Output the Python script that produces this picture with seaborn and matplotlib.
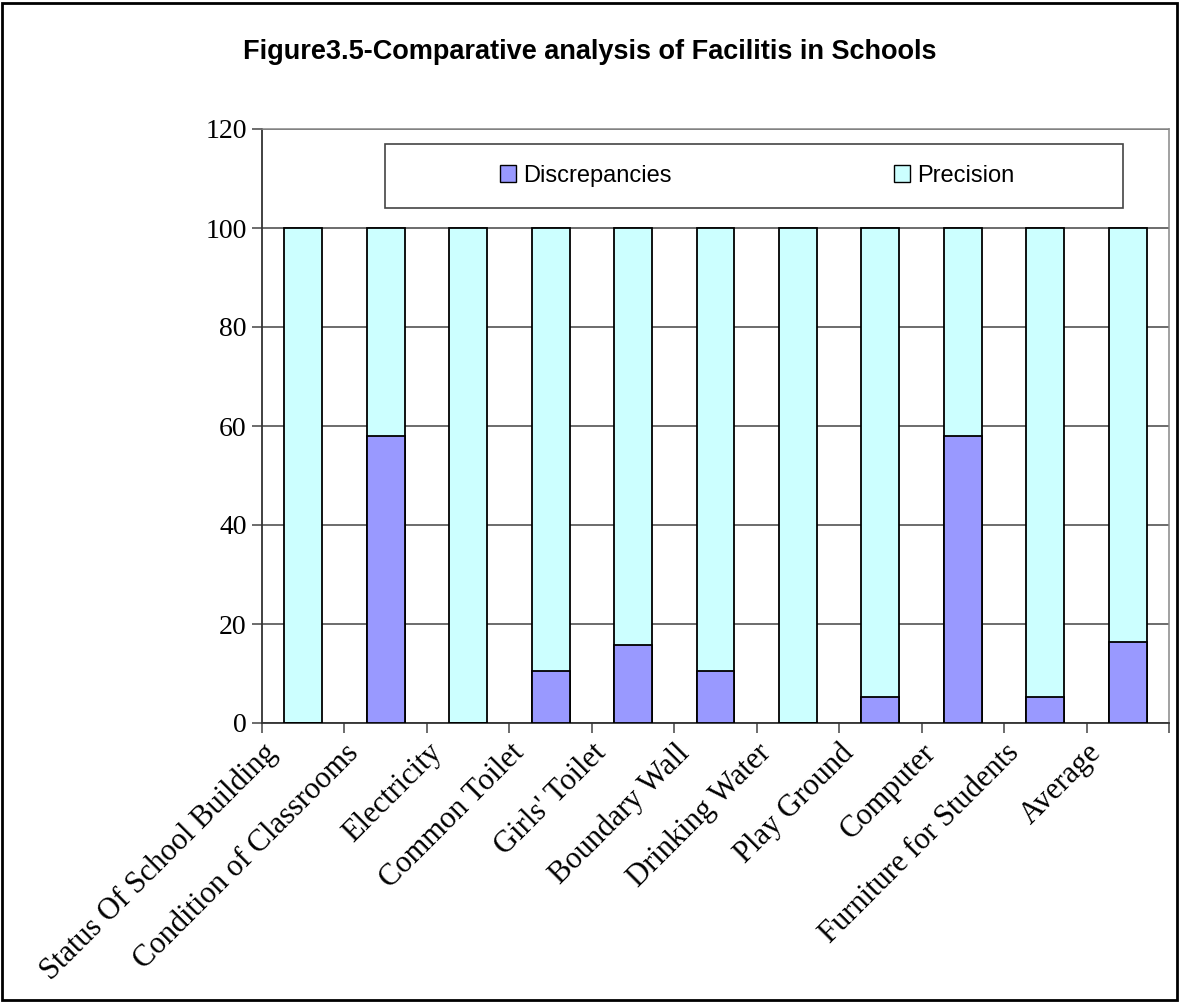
import numpy as np
import pandas as pd
import matplotlib
matplotlib.use("Agg")
import matplotlib.pyplot as plt
import seaborn as sns
from matplotlib.patches import Patch, Rectangle

# data
categories = [
    "Status Of School Building", "Condition of Classrooms", "Electricity",
    "Common Toilet", "Girls' Toilet", "Boundary Wall", "Drinking Water",
    "Play Ground", "Computer", "Furniture for Students", "Average",
]
discrepancies = [0, 57.9, 0, 10.5, 15.8, 10.5, 0, 5.3, 57.9, 5.3, 16.3]
precision = [100, 42.1, 100, 89.5, 84.2, 89.5, 100, 94.7, 42.1, 94.7, 83.7]
yticks = [0, 20, 40, 60, 80, 100, 120]

disc_color = "#9999FF"
prec_color = "#CCFFFF"

df = pd.DataFrame({
    "category": categories,
    "Discrepancies": discrepancies,
    "Precision": precision,
})
df["total"] = df["Discrepancies"] + df["Precision"]

sns.set_style("white")
plt.rcParams["font.family"] = ["Liberation Serif", "DejaVu Serif"]
plt.rcParams["text.color"] = "black"
plt.rcParams["xtick.color"] = "black"
plt.rcParams["ytick.color"] = "black"

fig = plt.figure(figsize=(11.8, 10.02), dpi=100)
ax = fig.add_axes([262 / 1180, 1 - 723 / 1002, (1169 - 262) / 1180, (723 - 129) / 1002])

# stacked bars: full height in precision colour, discrepancies drawn over the bottom
sns.barplot(data=df, x="category", y="total", color=prec_color, saturation=1,
            width=0.46, edgecolor="black", linewidth=1.3, ax=ax, zorder=3)
sns.barplot(data=df, x="category", y="Discrepancies", color=disc_color, saturation=1,
            width=0.46, edgecolor="black", linewidth=1.3, ax=ax, zorder=4)

ax.set_xlim(-0.5, len(categories) - 0.5)
ax.set_ylim(0, 120)
ax.set_yticks(yticks)
ax.set_yticklabels([str(v) for v in yticks], fontsize=20)
ax.yaxis.grid(True, color="#444444", linewidth=1.1, zorder=0)
ax.set_axisbelow(True)

# x ticks sit on the category boundaries, labels hang from them
ax.set_xticks(np.arange(len(categories) + 1) - 0.5)
ax.set_xticklabels(categories + [""], rotation=45, ha="right", va="top",
                   rotation_mode="anchor", fontsize=22)
ax.tick_params(axis="both", direction="out", length=7, width=1.1,
               bottom=True, left=True, pad=4)
ax.tick_params(axis="both", color="#444444")
ax.set_xlabel("")
ax.set_ylabel("")

for side in ["left", "bottom"]:
    ax.spines[side].set_color("#333333")
    ax.spines[side].set_linewidth(1.3)
for side in ["top", "right"]:
    ax.spines[side].set_visible(True)
    ax.spines[side].set_color("#888888")
    ax.spines[side].set_linewidth(1.1)

# legend box
fig.patches.append(Rectangle((385 / 1180, 1 - 208 / 1002), (1123 - 385) / 1180, 64 / 1002,
                             transform=fig.transFigure, facecolor="white",
                             edgecolor="#444444", linewidth=1.2, zorder=5))
handles = [Patch(facecolor=disc_color, edgecolor="black", label="Discrepancies"),
           Patch(facecolor=prec_color, edgecolor="black", label="Precision")]
fig.legend(handles=handles, loc="center", bbox_to_anchor=(757 / 1180, 1 - 176 / 1002),
           ncol=2, frameon=False, columnspacing=9.4, handlelength=0.7,
           handleheight=0.7, handletextpad=0.3,
           prop={"family": "Liberation Sans", "size": 17})

fig.text(0.5, 1 - 52 / 1002, "Figure3.5-Comparative analysis of Facilitis in Schools",
         ha="center", va="center", fontsize=19.5, fontweight="bold",
         family="Liberation Sans")

# outer figure border
fig.patches.append(Rectangle((2 / 1180, 2 / 1002), 1175 / 1180, 997 / 1002,
                             transform=fig.transFigure, fill=False,
                             edgecolor="black", linewidth=2))

fig.savefig("out.png", dpi=100)
